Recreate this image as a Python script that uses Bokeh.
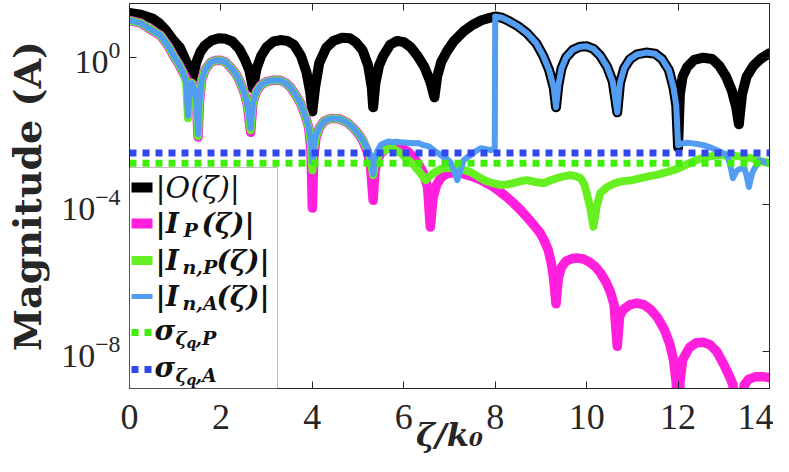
from bokeh.plotting import figure
from bokeh.models import (ColumnDataSource, Range1d, FixedTicker, LogAxis, LinearAxis,
                          BoxAnnotation, Label, CustomJSTickFormatter)
from bokeh.embed import file_html
from bokeh.resources import INLINE

# ---------------- data ----------------
X_MIN, X_MAX = 0.0, 14.0
Y_MIN, Y_MAX = 1.0e-9, 29.1

x_ticks = [0, 2, 4, 6, 8, 10, 12, 14]
y_ticks = [1e-8, 1e-4, 1e0]

zeta_O = [0.0, 0.25, 0.5, 0.65, 0.8, 0.96, 1.1, 1.2, 1.3, 1.38, 1.46, 1.55, 1.65, 1.8, 1.95,
          2.1, 2.25, 2.4, 2.52, 2.62, 2.7, 2.78, 2.88, 3.0, 3.15, 3.3, 3.45, 3.6, 3.75, 3.87,
          3.95, 4.0, 4.06, 4.15, 4.3, 4.46, 4.65, 4.82, 4.95, 5.1, 5.22, 5.3, 5.33, 5.38, 5.46,
          5.55, 5.7, 5.85, 6.0, 6.15, 6.3, 6.45, 6.58, 6.67, 6.73, 6.82, 6.95, 7.1, 7.3, 7.5,
          7.7, 7.85, 8.0, 8.15, 8.3, 8.5, 8.7, 8.9, 9.05, 9.18, 9.28, 9.33, 9.38, 9.45, 9.55,
          9.7, 9.85, 10.0, 10.15, 10.3, 10.45, 10.57, 10.67, 10.73, 10.82, 10.95, 11.1, 11.3,
          11.5, 11.65, 11.8, 11.9, 11.96, 12.0, 12.04, 12.1, 12.2, 12.35, 12.55, 12.75, 12.9,
          13.05, 13.18, 13.27, 13.33, 13.4, 13.5, 13.65, 13.8, 14.0]
mag_O = [16.1, 14.5, 11.4, 8.5, 5.4, 2.9, 1.87, 1.0, 0.50, 0.27, 0.73, 1.4, 2.1, 2.9, 3.3,
         3.2, 2.7, 1.7, 0.9, 0.45, 0.144, 0.5, 1.1, 1.9, 2.7, 2.95, 2.8, 2.2, 1.1, 0.4,
         0.12, 0.034, 0.15, 0.7, 1.8, 2.8, 3.4, 3.3, 2.6, 1.55, 0.6, 0.15, 0.044, 0.2, 0.6,
         1.1, 2.2, 2.8, 2.6, 1.9, 1.1, 0.55, 0.22, 0.082, 0.3, 0.75, 1.5, 2.8, 5.0, 7.6,
         10.2, 11.6, 12.9, 11.9, 9.7, 7.0, 4.5, 2.4, 1.1, 0.45, 0.15, 0.044, 0.17, 0.5, 1.0,
         1.6, 1.95, 2.0, 1.7, 1.1, 0.55, 0.22, 0.032, 0.2, 0.5, 0.9, 1.2, 1.35,
         1.25, 0.9, 0.45, 0.15, 0.05, 0.0036, 0.1, 0.3, 0.55, 0.85, 0.98, 0.9, 0.6,
         0.3, 0.12, 0.045, 0.0152, 0.1, 0.3, 0.6, 0.9, 1.3]

zeta_IP = [0.0, 0.25, 0.5, 0.68, 0.85, 0.96, 1.08, 1.18, 1.28, 1.36, 1.42, 1.47, 1.5, 1.53,
           1.58, 1.65, 1.77, 1.88, 1.99, 2.1, 2.21, 2.33, 2.43, 2.52, 2.58, 2.65, 2.7, 2.78,
           2.87, 3.0, 3.15, 3.3, 3.42, 3.52, 3.64, 3.74, 3.84, 3.92, 3.97, 4.0, 4.03, 4.08,
           4.15, 4.25, 4.35, 4.45, 4.6, 4.75, 4.9, 5.0, 5.1, 5.2, 5.27, 5.33, 5.37, 5.42, 5.5,
           5.6, 5.75, 5.93, 6.08, 6.22, 6.33, 6.43, 6.52, 6.58, 6.64, 6.72, 6.82, 6.95, 7.1,
           7.24, 7.38, 7.53, 7.68, 7.82, 7.96, 8.11, 8.25, 8.4, 8.55, 8.69, 8.84, 8.98, 9.08,
           9.16, 9.22, 9.27, 9.33, 9.38, 9.45, 9.55, 9.68, 9.8, 9.93, 10.05, 10.18, 10.3,
           10.42, 10.52, 10.6, 10.67, 10.72, 10.8, 10.95, 11.1, 11.25, 11.4, 11.55, 11.7,
           11.82, 11.9, 11.96, 12.0, 12.04, 12.1, 12.25, 12.4, 12.55, 12.7, 12.85, 13.0,
           13.12, 13.2, 13.3, 13.4, 13.45, 13.55, 13.7, 13.85, 14.0]
mag_IP = [10.1, 8.5, 5.4, 3.95, 2.0, 1.13, 0.65, 0.37, 0.22, 0.2, 0.13, 0.05, 0.0068, 0.06,
          0.25, 0.45, 0.73, 0.82, 0.83, 0.75, 0.54, 0.35, 0.2, 0.1, 0.05, 0.0092, 0.06, 0.12,
          0.174, 0.22, 0.24, 0.238, 0.2, 0.154, 0.095, 0.057, 0.027, 0.0126, 0.003, 8.0e-5,
          0.002, 0.0065, 0.012, 0.018, 0.021, 0.022, 0.021, 0.0175, 0.012, 0.0085, 0.0056,
          0.0028, 0.0012, 1.3e-4, 0.0008, 0.0016, 0.0025, 0.0032, 0.0038, 0.0036, 0.0028,
          0.0019, 0.0012, 7.1e-4, 3.0e-4, 2.45e-5, 1.5e-4, 3.5e-4, 5.5e-4, 7.0e-4, 7.4e-4,
          7.1e-4, 6.4e-4, 5.6e-4, 4.7e-4, 3.8e-4, 3.0e-4, 2.2e-4, 1.6e-4, 1.1e-4, 7.2e-5,
          4.6e-5, 2.8e-5, 1.7e-5, 1.0e-5, 5.8e-6, 2.8e-6, 1.2e-6, 2.0e-7, 1.0e-6, 2.0e-6,
          2.9e-6, 3.4e-6, 3.5e-6, 3.3e-6, 2.8e-6, 2.1e-6, 1.4e-6, 8.0e-7, 4.2e-7, 1.9e-7,
          1.4e-8, 9.0e-8, 1.4e-7, 1.9e-7, 2.1e-7, 1.9e-7, 1.4e-7, 8.5e-8, 4.0e-8, 1.6e-8,
          6.0e-9, 1.5e-9, 1.0e-11, 1.5e-9, 6.1e-9, 1.3e-8, 1.75e-8, 1.8e-8, 1.55e-8, 1.0e-8,
          4.5e-9, 2.2e-9, 1.27e-9, 1.0e-11, 5.0e-10, 1.27e-9, 1.8e-9, 2.1e-9, 2.1e-9, 1.97e-9]

zeta_nP = [0.0, 0.25, 0.5, 0.68, 0.85, 0.96, 1.08, 1.18, 1.24, 1.28, 1.32, 1.36, 1.42, 1.47,
           1.5, 1.53, 1.58, 1.65, 1.77, 1.88, 1.99, 2.1, 2.21, 2.33, 2.43, 2.52, 2.58, 2.65,
           2.7, 2.78, 2.87, 3.0, 3.15, 3.3, 3.42, 3.52, 3.64, 3.74, 3.84, 3.92, 3.97, 4.0,
           4.03, 4.08, 4.15, 4.25, 4.35, 4.45, 4.6, 4.75, 4.9, 5.0, 5.1, 5.2, 5.27, 5.33, 5.37,
           5.42, 5.5, 5.6, 5.75, 5.93, 6.08, 6.22, 6.35, 6.48, 6.56, 6.65, 6.76, 6.87, 7.02,
           7.17, 7.3, 7.46, 7.6, 7.75, 7.92, 8.11, 8.25, 8.4, 8.55, 8.69, 8.88, 9.06, 9.2, 9.35,
           9.5, 9.65, 9.78, 9.87, 9.95, 10.0, 10.08, 10.15, 10.22, 10.3, 10.45, 10.58, 10.7,
           10.85, 11.0, 11.18, 11.35, 11.5, 11.7, 11.9, 12.08, 12.25, 12.45, 12.6, 12.78,
           12.95, 13.15, 13.3, 13.45, 13.6, 13.75, 13.9, 14.0]
mag_nP = [10.1, 8.5, 5.4, 3.95, 2.0, 1.13, 0.65, 0.37, 0.2, 0.022, 0.18, 0.2, 0.13, 0.05,
          0.0072, 0.06, 0.25, 0.45, 0.73, 0.82, 0.83, 0.75, 0.54, 0.35, 0.2, 0.1, 0.05, 0.0105,
          0.06, 0.12, 0.174, 0.22, 0.24, 0.238, 0.2, 0.154, 0.095, 0.057, 0.027, 0.0126,
          0.004, 8.6e-4, 0.003, 0.0068, 0.012, 0.018, 0.021, 0.022, 0.021, 0.0175, 0.012,
          0.0085, 0.0058, 0.0032, 0.0017, 6.3e-4, 0.0012, 0.0018, 0.0026, 0.0031, 0.0034,
          0.0025, 0.0017, 0.00118, 7.5e-4, 4.6e-4, 5.8e-4, 7.1e-4, 8.6e-4, 9.8e-4, 1.0e-3,
          9.8e-4, 8.8e-4, 7.6e-4, 6.0e-4, 4.6e-4, 3.9e-4, 3.4e-4, 3.5e-4, 3.8e-4, 4.3e-4,
          4.6e-4, 4.1e-4, 3.8e-4, 4.5e-4, 5.2e-4, 5.8e-4, 6.3e-4, 5.8e-4, 5.2e-4, 3.5e-4,
          2.05e-4, 8.0e-5, 2.5e-5, 9.0e-5, 2.05e-4, 3.0e-4, 3.6e-4, 4.1e-4, 4.4e-4, 4.6e-4,
          5.2e-4, 5.8e-4, 6.3e-4, 7.3e-4, 8.6e-4, 1.05e-3, 1.33e-3, 1.7e-3, 1.94e-3, 2.1e-3,
          2.2e-3, 2.15e-3, 2.07e-3, 1.95e-3, 1.82e-3, 1.6e-3, 1.42e-3, 1.42e-3]

zeta_nA = [0.0, 0.25, 0.5, 0.68, 0.85, 0.96, 1.08, 1.18, 1.24, 1.28, 1.32, 1.36, 1.42, 1.47,
           1.5, 1.53, 1.58, 1.65, 1.77, 1.88, 1.99, 2.1, 2.21, 2.33, 2.43, 2.52, 2.58, 2.65,
           2.7, 2.78, 2.87, 3.0, 3.15, 3.3, 3.42, 3.52, 3.64, 3.74, 3.84, 3.92, 3.97, 4.0,
           4.03, 4.08, 4.15, 4.25, 4.35, 4.45, 4.6, 4.75, 4.9, 5.0, 5.1, 5.2, 5.27, 5.33, 5.37,
           5.42, 5.5, 5.57, 5.66, 5.75, 5.84, 5.93, 6.08, 6.22, 6.32, 6.43, 6.55, 6.65, 6.77,
           6.87, 6.95, 7.02, 7.1, 7.17, 7.24, 7.31, 7.38, 7.46, 7.57, 7.68, 7.8, 7.9, 7.99,
           8.0, 8.15, 8.3, 8.5, 8.7, 8.9, 9.05, 9.18, 9.28, 9.33, 9.38, 9.45, 9.55, 9.7, 9.85,
           10.0, 10.15, 10.3, 10.45, 10.57, 10.67, 10.73, 10.82, 10.95, 11.1, 11.3, 11.5,
           11.65, 11.8, 11.9, 11.96, 12.0, 12.1, 12.2, 12.28, 12.42, 12.56, 12.7, 12.85,
           12.96, 13.07, 13.14, 13.2, 13.25, 13.3, 13.38, 13.45, 13.5, 13.55, 13.59, 13.63,
           13.7, 13.78, 13.85, 13.93, 14.0]
mag_nA = [10.1, 8.5, 5.4, 3.95, 2.0, 1.13, 0.65, 0.37, 0.2, 0.026, 0.18, 0.2, 0.13, 0.05,
          0.0082, 0.06, 0.25, 0.45, 0.73, 0.82, 0.83, 0.75, 0.54, 0.35, 0.2, 0.1, 0.05, 0.0119,
          0.06, 0.12, 0.174, 0.22, 0.24, 0.238, 0.2, 0.154, 0.095, 0.057, 0.027, 0.0126,
          0.005, 0.00142, 0.004, 0.0077, 0.012, 0.018, 0.021, 0.022, 0.021, 0.0175, 0.012,
          0.0085, 0.0058, 0.0035, 0.0022, 6.7e-4, 0.0018, 0.0028, 0.0042, 0.00466, 0.0052,
          0.00495, 0.0051, 0.00495, 0.0048, 0.00466, 0.0047, 0.0041, 0.0038, 0.0030, 0.0024,
          0.00194, 0.0017, 0.00142, 8.6e-4, 4.6e-4, 9.0e-4, 0.0016, 0.0019, 0.0022, 0.0028,
          0.0034, 0.0032, 0.0030, 0.0034,
          12.9, 11.9, 9.7, 7.0, 4.5, 2.4, 1.1, 0.45, 0.15, 0.044, 0.17, 0.5, 1.0, 1.6, 1.95,
          2.0, 1.7, 1.1, 0.55, 0.22, 0.032, 0.2, 0.5, 0.9, 1.2, 1.35, 1.25,
          0.9, 0.45, 0.15, 0.05, 0.0041, 0.0046, 0.0048, 0.00466, 0.0044, 0.0041, 0.0036, 0.0030,
          0.0026, 0.0022, 0.0012, 5.2e-4, 7.0e-4, 8.6e-4, 9.5e-4, 9.8e-4, 6.0e-4, 3.0e-4, 5.0e-4,
          7.6e-4, 1.1e-3, 1.6e-3, 1.5e-3, 1.33e-3, 1.45e-3]

sigma_P = 0.00133
sigma_A = 0.0025

# ---------------- styles ----------------
C_O, C_IP, C_NP, C_NA = "#000000", "#ff1fdc", "#66f022", "#529cf2"
C_SP, C_SA = "#40ee0a", "#3048f0"
AX = "#262626"

p = figure(width=773, height=456, x_range=Range1d(X_MIN, X_MAX), y_range=Range1d(Y_MIN, Y_MAX),
           y_axis_type="log", output_backend="svg", toolbar_location=None,
           min_border_left=129, min_border_right=4, min_border_top=3, min_border_bottom=67)
p.background_fill_color = "white"
p.border_fill_color = "white"
p.outline_line_color = AX
p.outline_line_width = 1
p.xgrid.visible = False
p.ygrid.visible = False

for axis in (p.xaxis[0], p.yaxis[0]):
    axis.axis_line_color = AX
    axis.major_tick_line_color = AX
    axis.major_tick_in = 7
    axis.major_tick_out = 0
    axis.minor_tick_in = 0
    axis.minor_tick_out = 0
    axis.major_label_text_font = "Liberation Serif"
    axis.major_label_text_color = AX
    axis.axis_label_text_color = AX

p.xaxis[0].major_label_text_font_size = "36px"
p.yaxis[0].major_label_text_font_size = "34px"
p.xaxis[0].ticker = FixedTicker(ticks=x_ticks)
p.yaxis[0].ticker = FixedTicker(ticks=y_ticks)
p.xaxis[0].major_label_standoff = 16
p.yaxis[0].major_label_standoff = 9

p.yaxis[0].axis_label = "Magnitude (A)"
p.yaxis[0].axis_label_text_font = "DejaVu Serif"
p.yaxis[0].axis_label_text_font_style = "bold"
p.yaxis[0].axis_label_text_font_size = "38px"
p.yaxis[0].axis_label_standoff = 8

p.xaxis[0].axis_label = "ζ/k₀"
p.xaxis[0].axis_label_text_font = "DejaVu Serif"
p.xaxis[0].axis_label_text_font_style = "bold italic"
p.xaxis[0].axis_label_text_font_size = "32px"
p.xaxis[0].axis_label_standoff = -16

# mirrored tick axes (top / right), tick marks only
top = LinearAxis(ticker=FixedTicker(ticks=x_ticks), formatter=CustomJSTickFormatter(code="return ''"),
                 major_tick_in=7, major_tick_out=0, minor_tick_in=0, minor_tick_out=0,
                 axis_line_color=AX, major_tick_line_color=AX,
                 major_label_text_font_size="1px", major_label_standoff=0)
right = LogAxis(ticker=FixedTicker(ticks=y_ticks), formatter=CustomJSTickFormatter(code="return ''"),
                major_tick_in=7, major_tick_out=0, minor_tick_in=0, minor_tick_out=0,
                axis_line_color=AX, major_tick_line_color=AX,
                major_label_text_font_size="1px", major_label_standoff=0)
p.add_layout(top, "above")
p.add_layout(right, "right")

# ---------------- series ----------------
kw = dict(line_join="round", line_cap="round")
p.line("x", "y", source=ColumnDataSource(dict(x=zeta_O, y=mag_O)), line_color=C_O, line_width=10, **kw)
p.line("x", "y", source=ColumnDataSource(dict(x=zeta_IP, y=mag_IP)), line_color=C_IP, line_width=9.5, **kw)
p.line("x", "y", source=ColumnDataSource(dict(x=zeta_nP, y=mag_nP)), line_color=C_NP, line_width=8, **kw)
p.line("x", "y", source=ColumnDataSource(dict(x=zeta_nA, y=mag_nA)), line_color=C_NA, line_width=6, **kw)
p.line([X_MIN, X_MAX], [sigma_P, sigma_P], line_color=C_SP, line_width=7, line_dash="7 6", line_cap="butt")
p.line([X_MIN, X_MAX], [sigma_A, sigma_A], line_color=C_SA, line_width=7, line_dash="7 6", line_cap="butt")

# ---------------- legend (screen units, measured from the frame's lower-left corner) ----------------
def box(l, r, b, t, **style):
    p.add_layout(BoxAnnotation(left=l, right=r, bottom=b, top=t,
                               left_units="screen", right_units="screen",
                               bottom_units="screen", top_units="screen", **style))

box(0, 148, 0, 221, fill_color="white", fill_alpha=1.0, line_color=AX, line_width=1)

rows = [201, 165, 128, 92, 56, 19]
sw_h = [10, 10, 9, 5]
sw_c = [C_O, C_IP, C_NP, C_NA]
for yc, h, c in zip(rows[:4], sw_h, sw_c):
    box(2, 23, yc - h / 2, yc + h / 2, fill_color=c, fill_alpha=1.0, line_alpha=0)
for yc, c in zip(rows[4:], [C_SP, C_SA]):
    for l in (2, 15):
        box(l, l + 7, yc - 3.5, yc + 3.5, fill_color=c, fill_alpha=1.0, line_alpha=0)

def lab(x, y, t, size, style="bold italic"):
    p.add_layout(Label(x=x, y=y, x_units="screen", y_units="screen", text=t,
                       text_font="DejaVu Serif", text_font_style=style, text_font_size=size,
                       text_color="#111111", text_baseline="middle", text_align="left"))

MAIN, SUB, SUB2 = "28px", "19px", "14px"
lab(26, rows[0], "|O(ζ)|", "30px", "italic")
lab(26, rows[1], "|I", MAIN); lab(54, rows[1] - 6, "P", SUB); lab(72, rows[1], "(ζ)|", MAIN)
lab(26, rows[2], "|I", MAIN); lab(53, rows[2] - 6, "n,P", SUB); lab(87, rows[2], "(ζ)|", MAIN)
lab(26, rows[3], "|I", MAIN); lab(53, rows[3] - 6, "n,A", SUB); lab(87, rows[3], "(ζ)|", MAIN)
for yc, s in zip(rows[4:], [",P", ",A"]):
    lab(25, yc + 2, "σ", MAIN)
    lab(46, yc - 5, "ζ", SUB)
    lab(57, yc - 10, "q", SUB2)
    lab(66, yc - 5, s, SUB)

open("out.html", "w").write(file_html(p, INLINE))
